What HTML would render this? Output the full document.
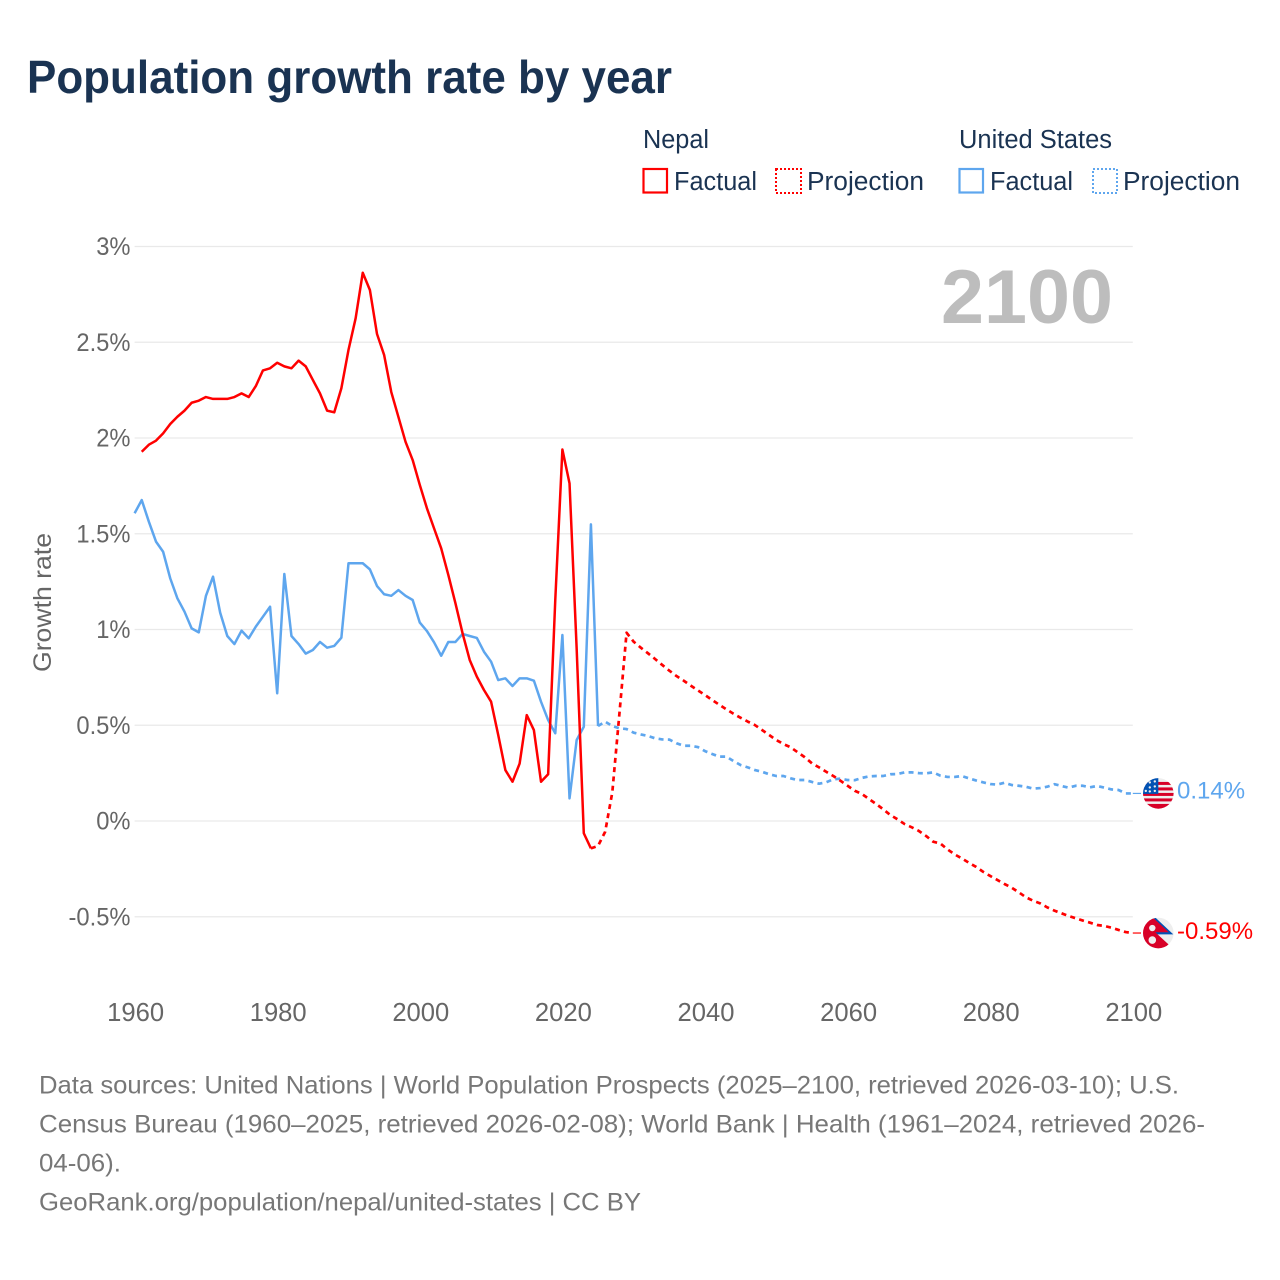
<!DOCTYPE html>
<html lang="en">
<head>
<meta charset="utf-8">
<title>Population growth rate by year</title>
<style>
html,body{margin:0;padding:0;background:#fff;}
svg{display:block;font-family:"Liberation Sans",sans-serif;}
</style>
</head>
<body>
<svg id="chart" xmlns="http://www.w3.org/2000/svg" width="1280" height="1280" viewBox="0 0 1280 1280">
  <defs>
    <clipPath id="flagClip"><circle cx="0" cy="0" r="15.3"/></clipPath>
  </defs>
  <rect x="0" y="0" width="1280" height="1280" fill="#fff"/>
  <text x="27" y="93" font-size="46.5" font-weight="700" fill="#1a3352" textLength="645" lengthAdjust="spacingAndGlyphs">Population growth rate by year</text>

  <g font-size="25.5" fill="#1a3352">
    <text x="643" y="148" textLength="66" lengthAdjust="spacingAndGlyphs">Nepal</text>
    <text x="959" y="148" textLength="153" lengthAdjust="spacingAndGlyphs">United States</text>
    <rect x="643.5" y="169" width="23.5" height="23.5" fill="none" stroke="#ff0000" stroke-width="2.2"/>
    <text x="674" y="190" textLength="83" lengthAdjust="spacingAndGlyphs">Factual</text>
    <rect x="776" y="169" width="25" height="24" fill="none" stroke="#ff0000" stroke-width="2" stroke-dasharray="2 2"/>
    <text x="807" y="190" textLength="117" lengthAdjust="spacingAndGlyphs">Projection</text>
    <rect x="959.5" y="169" width="23.5" height="23.5" fill="none" stroke="#5ea6ee" stroke-width="2.2"/>
    <text x="990" y="190" textLength="83" lengthAdjust="spacingAndGlyphs">Factual</text>
    <rect x="1093" y="169" width="24" height="24" fill="none" stroke="#5ea6ee" stroke-width="2" stroke-dasharray="2 2"/>
    <text x="1123" y="190" textLength="117" lengthAdjust="spacingAndGlyphs">Projection</text>
  </g>

  <g id="grid"></g>
  <text x="1113" y="323" font-size="76" font-weight="700" fill="#bdbdbd" text-anchor="end" textLength="172" lengthAdjust="spacingAndGlyphs">2100</text>
  <g id="yTicksGroup" font-size="25" fill="#666"></g>
  <g id="xTicksGroup" font-size="25.6" fill="#666"></g>
  <text transform="translate(51,672) rotate(-90)" font-size="25" fill="#666" textLength="139" lengthAdjust="spacingAndGlyphs">Growth rate</text>

  <g id="series" fill="none" stroke-width="2.5" stroke-linejoin="round"></g>

  <g id="flagUs">
    <g clip-path="url(#flagClip)">
      <rect x="-16" y="-16" width="32" height="32" fill="#eeeeee"/>
      <rect x="-16" y="-11.5" width="32" height="3" fill="#d80027"/>
      <rect x="-16" y="-6" width="32" height="3" fill="#d80027"/>
      <rect x="-16" y="-0.5" width="32" height="3" fill="#d80027"/>
      <rect x="-16" y="5" width="32" height="3" fill="#d80027"/>
      <rect x="-16" y="10.5" width="32" height="6" fill="#d80027"/>
      <rect x="-16" y="-16" width="16" height="16.5" fill="#0052b4"/>
      <circle cx="-3.5" cy="-12" r="1.2" fill="#eee"/><circle cx="-8.5" cy="-11" r="1.2" fill="#eee"/>
      <circle cx="-3.5" cy="-7" r="1.2" fill="#eee"/><circle cx="-8.5" cy="-6" r="1.2" fill="#eee"/>
      <circle cx="-3.5" cy="-2.5" r="1.2" fill="#eee"/><circle cx="-8.5" cy="-2" r="1.2" fill="#eee"/>
      <circle cx="-12.5" cy="-2.5" r="1.2" fill="#eee"/>
    </g>
  </g>
  <g id="flagNp">
    <g clip-path="url(#flagClip)">
      <rect x="-16" y="-16" width="32" height="32" fill="#eeeeee"/>
      <path d="M-8 -16 L-3.5 -16 L15 1.4 L-3 1.4 Z" fill="#0052b4"/>
      <path d="M-16 -16 L-6 -16 L10.5 -0.8 L-3 -0.8 L12.5 13.5 L10 16 L-16 16 Z" fill="#d80027"/>
      <circle cx="-6" cy="-5" r="3.2" fill="#eee"/>
      <circle cx="-6" cy="7" r="3.8" fill="#eee"/>
    </g>
  </g>
  <text id="labelUs" x="1177" font-size="24" fill="#5ea6ee">0.14%</text>
  <text id="labelNp" x="1177" font-size="24" fill="#ff0000">-0.59%</text>

  <g font-size="25" fill="#777">
    <text x="39" y="1093.5" textLength="1140" lengthAdjust="spacingAndGlyphs">Data sources: United Nations | World Population Prospects (2025–2100, retrieved 2026-03-10); U.S.</text>
    <text x="39" y="1132.5" textLength="1166" lengthAdjust="spacingAndGlyphs">Census Bureau (1960–2025, retrieved 2026-02-08); World Bank | Health (1961–2024, retrieved 2026-</text>
    <text x="39" y="1171.5" textLength="82" lengthAdjust="spacingAndGlyphs">04-06).</text>
    <text x="39" y="1210.5" textLength="602" lengthAdjust="spacingAndGlyphs">GeoRank.org/population/nepal/united-states | CC BY</text>
  </g>
</svg>
<script>
const yearTicks = [1960, 1980, 2000, 2020, 2040, 2060, 2080, 2100];
const valueTicks = [-0.5, 0, 0.5, 1, 1.5, 2, 2.5, 3];
const valueTickLabels = ["-0.5%", "0%", "0.5%", "1%", "1.5%", "2%", "2.5%", "3%"];

const nepalFactualStart = 1961;
const nepalFactual = [1.928,1.965,1.986,2.024,2.073,2.111,2.143,2.184,2.195,2.214,2.204,2.204,2.204,2.214,2.233,2.214,2.271,2.353,2.364,2.393,2.374,2.364,2.404,2.374,2.303,2.233,2.143,2.134,2.26,2.46,2.625,2.863,2.773,2.543,2.433,2.24,2.11,1.98,1.885,1.755,1.633,1.528,1.424,1.285,1.137,0.98,0.841,0.754,0.684,0.623,0.449,0.266,0.205,0.30,0.553,0.475,0.205,0.244,1.154,1.94,1.763,0.9,-0.064,-0.143];

const nepalProjectionStart = 2024;
const nepalProjection = [-0.143,-0.13,-0.056,0.15,0.562,0.983,0.936,0.905,0.876,0.846,0.815,0.785,0.757,0.733,0.707,0.682,0.658,0.632,0.607,0.583,0.56,0.539,0.519,0.501,0.475,0.449,0.423,0.402,0.385,0.359,0.333,0.301,0.28,0.257,0.235,0.21,0.184,0.158,0.141,0.115,0.089,0.061,0.031,0.009,-0.016,-0.033,-0.052,-0.078,-0.108,-0.117,-0.148,-0.174,-0.195,-0.218,-0.239,-0.265,-0.287,-0.308,-0.329,-0.348,-0.372,-0.398,-0.416,-0.43,-0.451,-0.468,-0.482,-0.496,-0.508,-0.52,-0.531,-0.543,-0.548,-0.557,-0.569,-0.58,-0.585];

const usFactualStart = 1960;
const usFactual = [1.607,1.676,1.563,1.459,1.406,1.267,1.163,1.093,1.006,0.985,1.175,1.276,1.088,0.966,0.924,0.994,0.954,1.015,1.067,1.119,0.667,1.29,0.966,0.924,0.874,0.893,0.935,0.905,0.914,0.957,1.346,1.346,1.346,1.314,1.227,1.184,1.176,1.206,1.176,1.154,1.036,0.992,0.933,0.863,0.935,0.935,0.977,0.966,0.956,0.884,0.832,0.736,0.745,0.705,0.745,0.745,0.733,0.623,0.527,0.458,0.971,0.118,0.423,0.492,1.549,0.496];

const usProjectionStart = 2025;
const usProjection = [0.496,0.519,0.496,0.484,0.48,0.461,0.452,0.444,0.432,0.426,0.425,0.406,0.393,0.393,0.386,0.365,0.35,0.336,0.336,0.313,0.292,0.28,0.266,0.257,0.244,0.235,0.235,0.223,0.214,0.214,0.204,0.195,0.202,0.218,0.221,0.214,0.213,0.225,0.233,0.235,0.235,0.244,0.245,0.254,0.254,0.25,0.249,0.254,0.237,0.23,0.23,0.235,0.223,0.212,0.202,0.193,0.19,0.2,0.188,0.184,0.179,0.169,0.172,0.179,0.192,0.183,0.174,0.184,0.184,0.176,0.183,0.174,0.165,0.162,0.144,0.144];

const SVG_NS = "http://www.w3.org/2000/svg";
function xScale(year) { return 134.6 + (year - 1960) * 7.13; }
function yScale(value) { return 821 - value * 191.5; }
function linePath(startYear, values) {
  return values.map(function (v, i) {
    return (i ? "L" : "M") + xScale(startYear + i).toFixed(2) + " " + yScale(v).toFixed(2);
  }).join(" ");
}

const grid = document.getElementById("grid");
const yTicksGroup = document.getElementById("yTicksGroup");
const xTicksGroup = document.getElementById("xTicksGroup");
const seriesGroup = document.getElementById("series");

valueTicks.forEach(function (v, i) {
  const line = document.createElementNS(SVG_NS, "line");
  
  
  line.setAttribute("x1", xScale(1960));
  line.setAttribute("x2", xScale(2100));
  line.setAttribute("y1", yScale(v));
  line.setAttribute("y2", yScale(v));
  line.setAttribute("stroke", "#e9e9e9");
  line.setAttribute("stroke-width", "1.3");
  grid.appendChild(line);

  const label = document.createElementNS(SVG_NS, "text");
  
  
  label.setAttribute("x", 130.5);
  label.setAttribute("y", yScale(v) + 8.5);
  label.setAttribute("text-anchor", "end");
  label.textContent = valueTickLabels[i];
  yTicksGroup.appendChild(label);
  label.setAttribute("lengthAdjust", "spacingAndGlyphs");
  label.setAttribute("textLength", (label.getComputedTextLength() * 0.95).toFixed(1));
});

yearTicks.forEach(function (year) {
  const label = document.createElementNS(SVG_NS, "text");
  
  
  label.setAttribute("x", xScale(year) + 1);
  label.setAttribute("y", 1021);
  label.setAttribute("text-anchor", "middle");
  label.textContent = String(year);
  xTicksGroup.appendChild(label);
});

function addLine(d, color, dashed) {
  const path = document.createElementNS(SVG_NS, "path");
  path.setAttribute("d", d);
  path.setAttribute("stroke", color);
  if (dashed) {
    path.setAttribute("stroke-dasharray", "5 4.3");
    path.setAttribute("stroke-width", "2.7");
  }
  seriesGroup.appendChild(path);
  return path;
}

const usFactualLine = addLine(linePath(usFactualStart, usFactual), "#5ea6ee", false);


const usProjectionLine = addLine(linePath(usProjectionStart, usProjection), "#5ea6ee", true);


const nepalFactualLine = addLine(linePath(nepalFactualStart, nepalFactual), "#ff0000", false);


const nepalProjectionLine = addLine(linePath(nepalProjectionStart, nepalProjection), "#ff0000", true);



const usEnd = yScale(usProjection[usProjection.length - 1]);
const npEnd = yScale(nepalProjection[nepalProjection.length - 1]);

const usConnector = addLine("M" + xScale(2100) + " " + usEnd + " L1141 " + usEnd, "#5ea6ee", false);


usConnector.setAttribute("stroke-width", "1.2");
const npConnector = addLine("M" + xScale(2100) + " " + npEnd + " L1141 " + npEnd, "#ff0000", false);


npConnector.setAttribute("stroke-width", "1.2");

document.getElementById("flagUs").setAttribute("transform", "translate(1158.3," + usEnd + ")");
document.getElementById("flagNp").setAttribute("transform", "translate(1158.3," + npEnd + ")");
document.getElementById("labelUs").setAttribute("y", usEnd + 5);
document.getElementById("labelNp").setAttribute("y", npEnd + 6);
</script>
</body>
</html>
